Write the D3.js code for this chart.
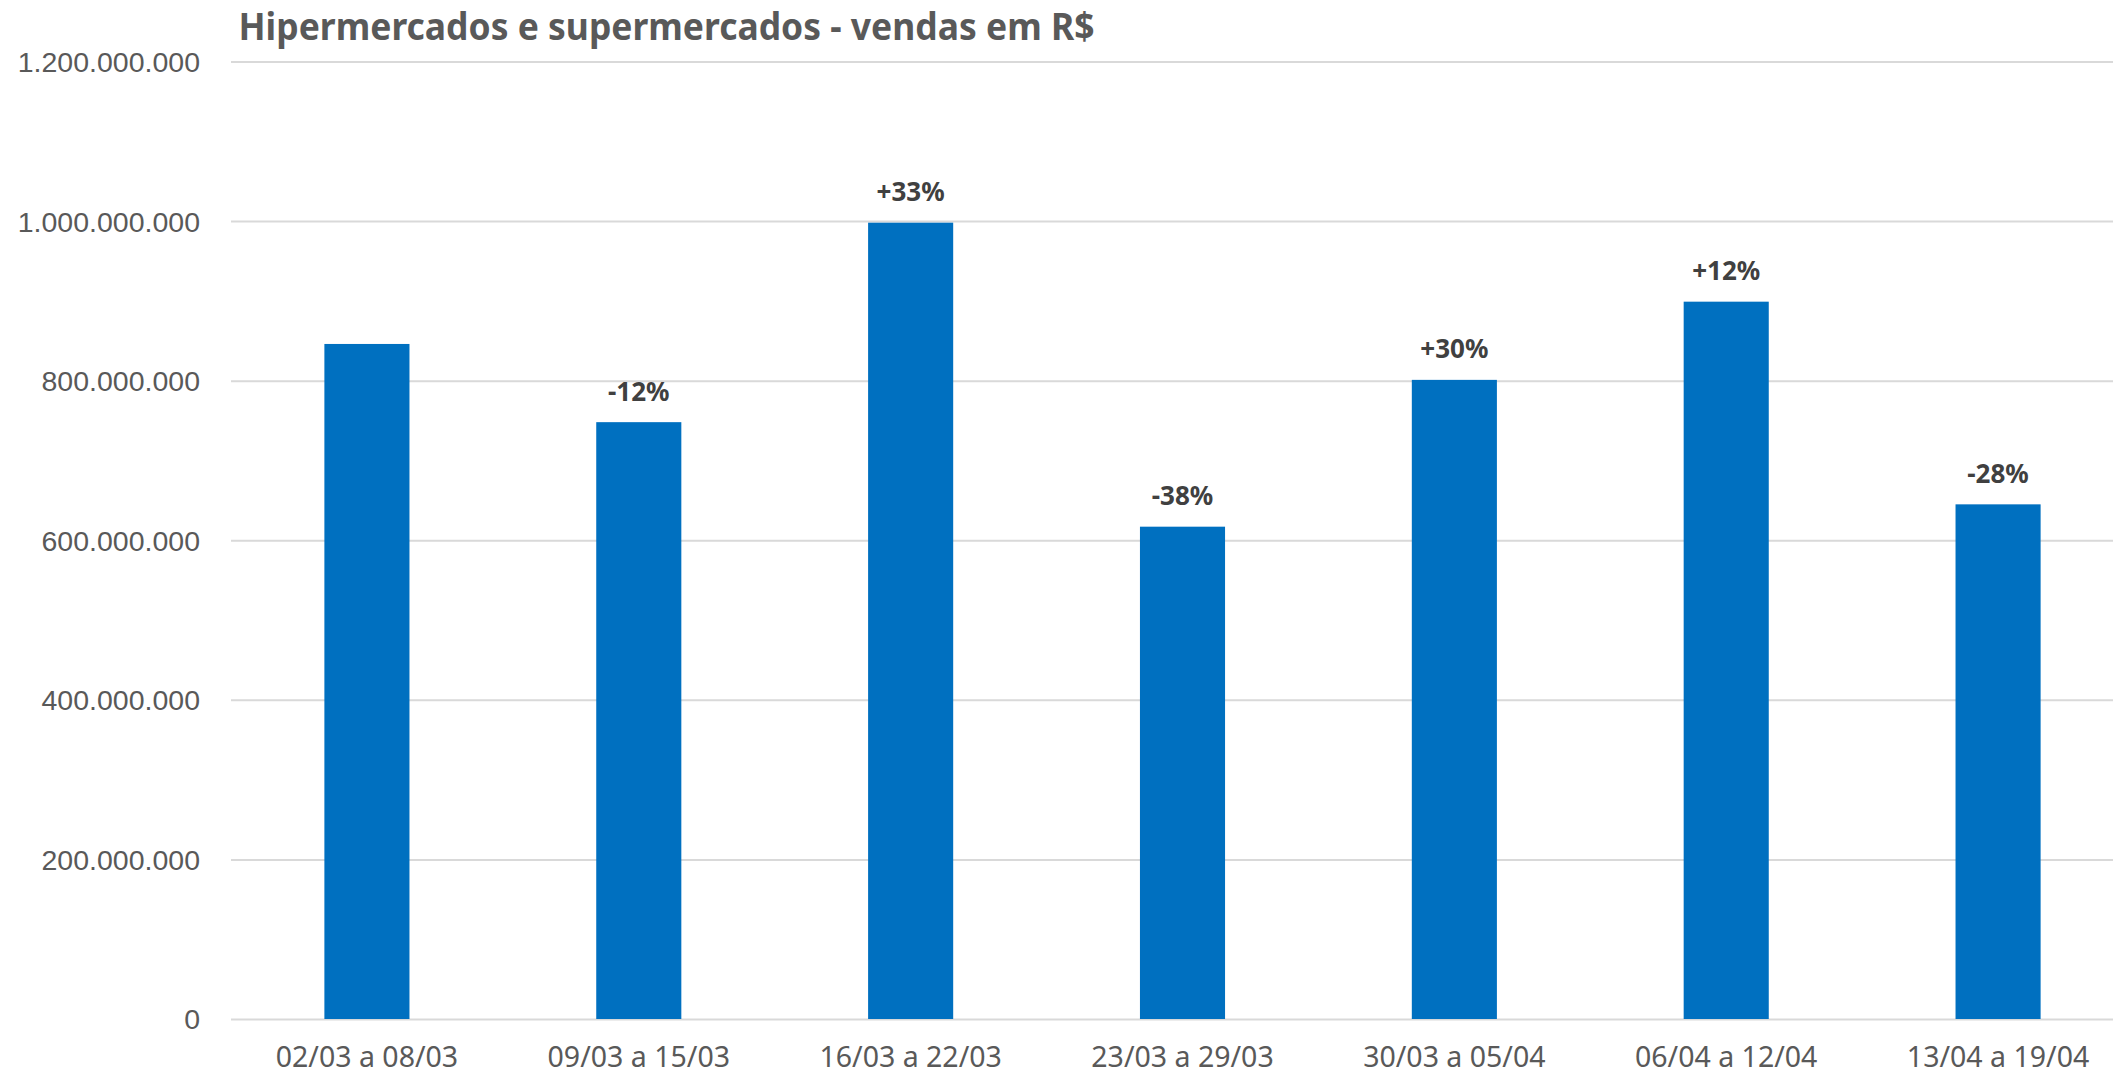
<!DOCTYPE html>
<html>
<head>
<meta charset="utf-8">
<script src="https://cdn.jsdelivr.net/npm/d3@7"></script>
<style>
    body { margin: 0; background: #fff; }
    svg { display: block; }
</style>
</head>
<body>
<svg></svg>
<script>
const categories = [
    "02/03 a 08/03",
    "09/03 a 15/03",
    "16/03 a 22/03",
    "23/03 a 29/03",
    "30/03 a 05/04",
    "06/04 a 12/04",
    "13/04 a 19/04"
];
const sales = [846000000, 748000000, 998000000, 617000000, 801000000, 899000000, 645000000];
const changes = ["", "-12%", "+33%", "-38%", "+30%", "+12%", "-28%"];
const yTicks = [0, 200000000, 400000000, 600000000, 800000000, 1000000000, 1200000000];

const width = 2113;
const height = 1076;
const plotLeft = 231;
const plotRight = 2134; // plot area runs a little past the right edge
const plotTop = 61.5;
const plotBottom = 1019;

const svg = d3.select("svg")
    .attr("width", width)
    .attr("height", height);

const xScale = d3.scaleBand()
    .domain(categories)
    .range([plotLeft, plotRight])
    .paddingInner(0.687)
    .paddingOuter(0.3435);

const yScale = d3.scaleLinear()
    .domain([0, 1200000000])
    .range([plotBottom, plotTop]);

//Format numbers with dots as thousand separators
const ptBR = d3.formatLocale({ decimal: ",", thousands: ".", grouping: [3], currency: ["R$", ""] });
const fmt = ptBR.format(",d");

//Gridlines + y labels
const yAxis = d3.axisLeft(yScale)
    .tickValues(yTicks)
    .tickFormat(fmt)
    .tickSize(-(width - plotLeft))
    .tickPadding(31);

const yAxisGroup = svg.append("g")
    .attr("transform", "translate(" + plotLeft + ",0)")
    .call(yAxis);

yAxisGroup.select(".domain").remove();
yAxisGroup.selectAll(".tick line")
    .attr("stroke", "#d9d9d9")
    .attr("stroke-width", 2);
yAxisGroup.selectAll(".tick text")
    .attr("fill", "#595959")
    .style("font-family", "'Liberation Sans', Arial, sans-serif")
    .style("font-size", "28.5px")
    .attr("dy", "0.35em");

//X labels
const xAxis = d3.axisBottom(xScale).tickSize(0).tickPadding(0);
const xAxisGroup = svg.append("g")
    .attr("transform", "translate(0," + plotBottom + ")")
    .call(xAxis);
xAxisGroup.select(".domain").remove();
xAxisGroup.selectAll(".tick text")
    .attr("y", 48)
    .attr("dy", 0)
    .attr("fill", "#595959")
    .style("font-family", "'Noto Sans', sans-serif")
    .style("font-size", "28.5px");

//Bars
svg.selectAll("rect.bar")
    .data(sales)
    .enter()
    .append("rect")
    .attr("class", "bar")
    .attr("x", (d, i) => xScale(categories[i]))
    .attr("y", (d) => yScale(d))
    .attr("width", xScale.bandwidth())
    .attr("height", (d) => yScale(0) - yScale(d))
    .attr("fill", "#0070c0");

//Data labels
svg.selectAll("text.label")
    .data(sales)
    .enter()
    .append("text")
    .attr("class", "label")
    .attr("x", (d, i) => xScale(categories[i]) + xScale.bandwidth() / 2)
    .attr("y", (d) => yScale(d) - 21.5)
    .attr("text-anchor", "middle")
    .attr("fill", "#404040")
    .style("font-family", "'Noto Sans', sans-serif")
    .style("font-weight", "bold")
    .style("font-size", "26px")
    .text((d, i) => changes[i]);

//Title
svg.append("text")
    .attr("x", 238.5)
    .attr("y", 39.5)
    .attr("fill", "#595959")
    .style("font-family", "'Noto Sans', sans-serif")
    .style("font-weight", "bold")
    .style("font-size", "37px")
    .attr("textLength", 856)
    .attr("lengthAdjust", "spacingAndGlyphs")
    .text("Hipermercados e supermercados - vendas em R$");
</script>
</body>
</html>
